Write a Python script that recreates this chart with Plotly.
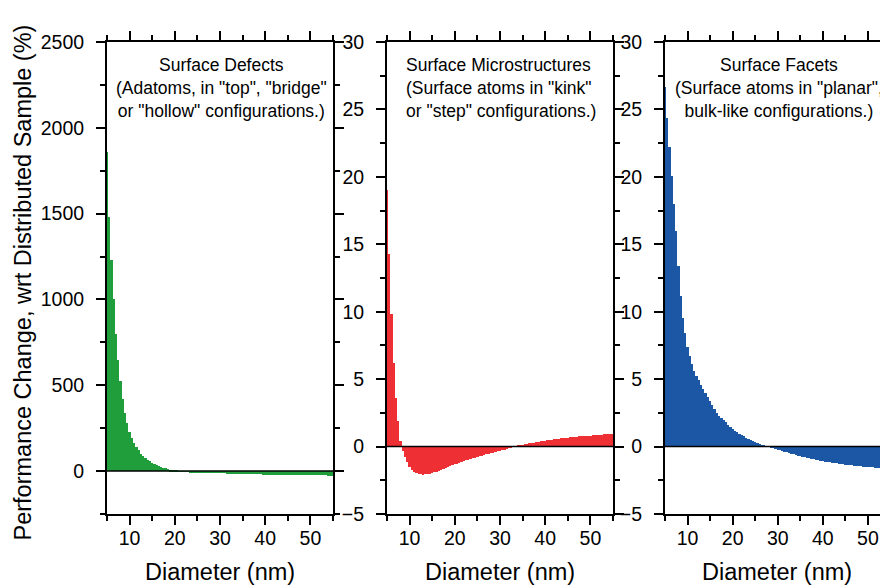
import plotly.graph_objects as go

# ---------------- data ----------------
diameter_nm = [
    5.0, 5.5, 6.0, 6.5, 7.0, 7.5, 8.0, 8.5, 9.0, 9.5,
    10.0, 10.5, 11.0, 11.5, 12.0, 12.5, 13.0, 13.5, 14.0, 14.5,
    15.0, 15.5, 16.0, 16.5, 17.0, 17.5, 18.0, 18.5, 19.0, 19.5,
    20.0, 20.5, 21.0, 21.5, 22.0, 22.5, 23.0, 23.5, 24.0, 24.5,
    25.0, 25.5, 26.0, 26.5, 27.0, 27.5, 28.0, 28.5, 29.0, 29.5,
    30.0, 30.5, 31.0, 31.5, 32.0, 32.5, 33.0, 33.5, 34.0, 34.5,
    35.0, 35.5, 36.0, 36.5, 37.0, 37.5, 38.0, 38.5, 39.0, 39.5,
    40.0, 40.5, 41.0, 41.5, 42.0, 42.5, 43.0, 43.5, 44.0, 44.5,
    45.0, 45.5, 46.0, 46.5, 47.0, 47.5, 48.0, 48.5, 49.0, 49.5,
    50.0, 50.5, 51.0, 51.5, 52.0, 52.5, 53.0, 53.5, 54.0, 54.5,
    55.0,
]

surface_defects = [
    1860, 1480, 1230, 1000, 800, 650, 525, 420, 340, 280,
    230, 195, 165, 140, 120, 102, 88, 76, 65, 56,
    48, 41, 35, 29, 24, 20, 16, 12, 9, 6,
    3, 1, -1, -2, -3, -4, -5, -6, -7, -7.5,
    -8, -8.5, -9, -9.5, -10, -10.5, -11, -11.5, -12, -12.5,
    -13, -13.5, -14, -14.5, -15, -15.5, -16, -16, -16.5, -17,
    -17, -17.5, -18, -18, -18.5, -19, -19, -19.5, -19.5, -20,
    -20, -20.5, -20.5, -21, -21, -21.5, -21.5, -22, -22, -22,
    -22.5, -22.5, -23, -23, -23, -23.5, -23.5, -24, -24, -24,
    -24.5, -24.5, -25, -25, -25, -25.5, -25.5, -25.5, -26, -26,
    -26,
]

surface_microstructures = [
    19.0, 14.3, 9.8, 6.2, 3.6, 1.9, 0.4, -0.3, -0.75, -1.15,
    -1.5, -1.7, -1.85, -1.95, -2.03, -2.07, -2.08, -2.06, -2.03, -2.0,
    -1.96, -1.91, -1.86, -1.8, -1.74, -1.67, -1.6, -1.53, -1.46, -1.39,
    -1.32, -1.26, -1.2, -1.14, -1.08, -1.02, -0.97, -0.92, -0.87, -0.82,
    -0.78, -0.73, -0.68, -0.63, -0.58, -0.53, -0.48, -0.44, -0.4, -0.36,
    -0.32, -0.27, -0.22, -0.17, -0.12, -0.07, -0.02, 0.02, 0.06, 0.1,
    0.13, 0.17, 0.2, 0.24, 0.27, 0.3, 0.33, 0.36, 0.39, 0.42,
    0.45, 0.48, 0.5, 0.52, 0.54, 0.56, 0.58, 0.6, 0.62, 0.64,
    0.66, 0.68, 0.7, 0.72, 0.73, 0.75, 0.76, 0.78, 0.79, 0.81,
    0.82, 0.84, 0.85, 0.87, 0.88, 0.89, 0.9, 0.91, 0.92, 0.94,
    0.95,
]

surface_facets = [
    26.7, 24.4, 22.2, 20.1, 18.0, 16.0, 13.4, 11.2, 9.5, 8.4,
    7.4, 6.7, 6.1, 5.6, 5.25, 4.95, 4.6, 4.25, 3.95, 3.65,
    3.35, 3.05, 2.8, 2.5, 2.3, 2.1, 1.95, 1.8, 1.62, 1.45,
    1.3, 1.17, 1.05, 0.95, 0.85, 0.75, 0.65, 0.56, 0.47, 0.4,
    0.33, 0.26, 0.2, 0.14, 0.09, 0.04, -0.01, -0.06, -0.11, -0.16,
    -0.22, -0.27, -0.32, -0.37, -0.42, -0.47, -0.52, -0.57, -0.62, -0.67,
    -0.72, -0.76, -0.8, -0.84, -0.88, -0.92, -0.95, -0.99, -1.02, -1.06,
    -1.09, -1.12, -1.14, -1.17, -1.2, -1.23, -1.25, -1.28, -1.3, -1.32,
    -1.34, -1.36, -1.38, -1.4, -1.41, -1.43, -1.45, -1.47, -1.48, -1.5,
    -1.51, -1.53, -1.54, -1.56, -1.57, -1.59, -1.6, -1.62, -1.63, -1.65,
    -1.66,
]

panel_titles = [
    "Surface Defects<br>(Adatoms, in \"top\", \"bridge\"<br>or \"hollow\" configurations.)",
    "Surface Microstructures<br>(Surface atoms in \"kink\"<br>or \"step\" configurations.)",
    "Surface Facets<br>(Surface atoms in \"planar\",<br>bulk-like configurations.)",
]
x_title = "Diameter (nm)"
y_title = "Performance Change, wrt Distributed Sample (%)"

# ---------------- styling ----------------
FONT = "Arial, 'Liberation Sans', sans-serif"
GREEN = "#1f9e3b"
RED = "#ee2f34"
BLUE = "#1c57a5"
W, H = 888, 585
OFF = 8  # page body margin of the browser: the figure is drawn 8 px in
# target positions (screen pixels)
TOP, BOTTOM = 42, 514
ML, MR = 0, 0
MT = TOP - OFF
MB = H - (BOTTOM - OFF)

def px_x(p):
    return (p - OFF) / W

def px_y(p):
    return (BOTTOM - p) / (BOTTOM - TOP)

fig = go.Figure()
series = [surface_defects, surface_microstructures, surface_facets]
colors = [GREEN, RED, BLUE]
for i, (vals, col) in enumerate(zip(series, colors)):
    sfx = "" if i == 0 else str(i + 1)
    fig.add_trace(go.Bar(
        x=diameter_nm, y=vals, width=0.5,
        marker=dict(color=col, line=dict(width=0)),
        xaxis="x" + sfx, yaxis="y" + sfx,
        hoverinfo="x+y", showlegend=False,
    ))

tickfont = dict(family=FONT, size=19.5, color="black")

def xaxis(domain, rng, anchor):
    return dict(
        domain=domain, range=rng, anchor=anchor,
        tickmode="linear", tick0=0, dtick=10,
        ticks="outside", ticklen=9, tickwidth=2, tickcolor="black",
        showline=True, linewidth=2, linecolor="black", mirror="ticks",
        showgrid=False, zeroline=False, tickfont=tickfont,
        ticklabelstandoff=-3, automargin=False,
        minor=dict(tickmode="linear", tick0=0, dtick=5, ticks="outside",
                   ticklen=5, tickwidth=2, tickcolor="black", showgrid=False),
    )

def yaxis(rng, dtick, mdtick, anchor):
    return dict(
        domain=[0, 1], range=rng, anchor=anchor,
        tickmode="linear", tick0=0, dtick=dtick,
        ticks="outside", ticklen=9, tickwidth=2, tickcolor="black",
        showline=True, linewidth=2, linecolor="black", mirror="ticks",
        showgrid=False, zeroline=False, tickfont=tickfont,
        ticklabelstandoff=8, automargin=False,
        minor=dict(tickmode="linear", tick0=0, dtick=mdtick, ticks="outside",
                   ticklen=5, tickwidth=2, tickcolor="black", showgrid=False),
    )

d1 = [px_x(107), px_x(333)]
d2 = [px_x(387), px_x(613)]
d3 = [px_x(665), px_x(890.5)]

fig.update_layout(
    width=W, height=H,
    margin=dict(l=ML, r=MR, t=MT, b=MB),
    paper_bgcolor="white", plot_bgcolor="white",
    font=dict(family=FONT, color="black"),
    bargap=0, showlegend=False,
    xaxis=xaxis(d1, [5, 55], "y"),
    xaxis2=xaxis(d2, [5, 55], "y2"),
    xaxis3=xaxis(d3, [5, 55], "y3"),
    yaxis=yaxis([-250, 2500], 500, 250, "x"),
    yaxis2=yaxis([-5, 30], 5, 2.5, "x2"),
    yaxis3=yaxis([-5, 30], 5, 2.5, "x3"),
)

# zero reference lines drawn over the bars
for i in range(3):
    sfx = "" if i == 0 else str(i + 1)
    fig.add_shape(type="line", xref="x" + sfx + " domain", yref="y" + sfx,
                  x0=0, x1=1, y0=0, y1=0,
                  line=dict(color="black", width=1.5), layer="above")

ann_font = dict(family=FONT, size=17.5, color="black")
title_y = px_y(87.7)
fig.add_annotation(text=panel_titles[0], xref="paper", yref="paper",
                   x=px_x(221), y=title_y, xanchor="center", yanchor="middle",
                   align="center", showarrow=False, font=ann_font)
fig.add_annotation(text=panel_titles[1], xref="paper", yref="paper",
                   x=px_x(404), y=title_y, xanchor="left", yanchor="middle",
                   align="left", showarrow=False, font=ann_font)
fig.add_annotation(text=panel_titles[2], xref="paper", yref="paper",
                   x=px_x(779), y=title_y, xanchor="center", yanchor="middle",
                   align="center", showarrow=False, font=ann_font)

big_font = dict(family=FONT, size=23.5, color="black")
for cx in [220, 500, 777]:
    fig.add_annotation(text=x_title, xref="paper", yref="paper",
                       x=px_x(cx), y=px_y(572), xanchor="center", yanchor="middle",
                       showarrow=False, font=big_font)
fig.add_annotation(text=y_title, xref="paper", yref="paper", textangle=-90,
                   x=px_x(22.5), y=px_y(283), xanchor="center", yanchor="middle",
                   showarrow=False, font=big_font)

fig.write_html("out.html")
